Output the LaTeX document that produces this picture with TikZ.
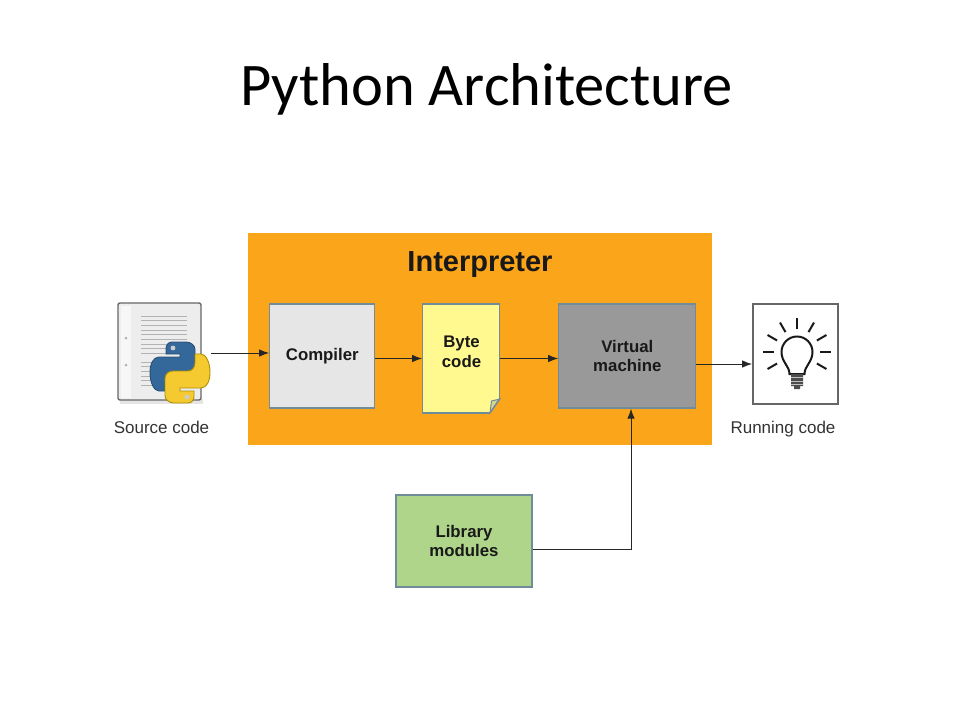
\documentclass[tikz,border=0pt]{standalone}
\usepackage{fontspec}
\setmainfont{Liberation Sans}
\newfontfamily\titlefont{Carlito}
\usetikzlibrary{arrows.meta}

\definecolor{interpcol}{HTML}{FBA51A}
\definecolor{edgecol}{HTML}{6F8C98}
\definecolor{comcol}{HTML}{E6E6E6}
\definecolor{bytecol}{HTML}{FFF98F}
\definecolor{vmcol}{HTML}{999999}
\definecolor{libcol}{HTML}{AED58A}
\definecolor{snakeblue}{HTML}{35689A}
\definecolor{snakeyellow}{HTML}{F5C930}

\tikzset{
	>={Latex[length=10pt, width=7.5pt]},
	block/.style={draw=edgecol, line width=1.3pt, align=center, inner sep=0pt,
		font=\fontsize{16.8}{19.5}\selectfont\bfseries, text=black!90},
	caption/.style={font=\fontsize{17}{20}\selectfont, text=black!80, anchor=base},
	flow/.style={->, line width=1pt, black!85},
	snake/.pic={
		\filldraw[line width=.9pt, pic actions] (-14,-18.5) -- (0,-18.5) -- (0,-15.5) -- (-21,-15.5)
			.. controls (-27,-15.5) and (-30,-8) .. (-30,0)
			.. controls (-30,10) and (-26,18.5) .. (-21,18.5)
			-- (-15,18.5) -- (-15,10) .. controls (-15,5) and (-12,1.5) .. (-8,1.5)
			-- (7,1.5) .. controls (12,1.5) and (15,-2) .. (15,-6)
			-- (15,-23) .. controls (15,-27) and (11,-30.5) .. (6,-30.5)
			-- (-8,-30.5) .. controls (-12,-30.5) and (-14,-27) .. (-14,-24) -- cycle;
		\fill[white!80!black] (-7,-24.5) circle (2.4);
	}
}

\begin{document}
\begin{tikzpicture}[x=1pt, y=-1pt]
	\useasboundingbox[fill=white] (0,0) rectangle (962,718);

	\node[font=\fontsize{60.5}{62}\selectfont\titlefont] (title) at (486.5,89) {Python Architecture};

	\node[fill=interpcol, minimum width=464pt, minimum height=212pt] (interp) at (480,339) {};
	\node[font=\fontsize{29}{32}\selectfont\bfseries, text=black!90] (interplabel) at (480,265) {Interpreter};

	\node[block, fill=comcol, minimum width=105pt, minimum height=104pt] (compiler) at (322.3,356) {Compiler};
	\node[block, fill=bytecol, minimum width=77pt, minimum height=109pt] (bytecode) at (461.3,358.5) {};
	\node[block, draw=none] (bytelabel) at (461.5,352) {Byte\\code};
	\node[block, fill=vmcol, minimum width=137pt, minimum height=104pt] (vm) at (627.3,356) {Virtual\\machine};
	\node[block, fill=libcol, minimum width=136pt, minimum height=92pt] (library) at (464,541) {Library\\modules};
	\node[draw=black!60, fill=white, line width=1.4pt, minimum width=85pt, minimum height=100pt] (running) at (795.3,354) {};

	% folded corner of the byte code sheet
	\fill[interpcol] (489,414.5) -- (501,414.5) -- (501,398) -- cycle;
	\filldraw[draw=edgecol, fill=bytecol!70!edgecol, line width=1pt] (490,413) -- (500,399) -- (491.5,401) -- cycle;
	\draw[edgecol, line width=1.3pt] (500,398) -- (490,413);

	% source file
	\fill[black!10] (120,399) rectangle (203,404);
	\node[draw=black!60, fill=black!7, rounded corners=2pt, line width=1.4pt, minimum width=83pt, minimum height=97pt] (source) at (159.5,351.5) {};
	\fill[black!3] (121,306) rectangle (131,398);
	\foreach \y in {316,320.7,...,356}
		\draw[black!30, line width=1pt] (141,\y) -- (187,\y);
	\foreach \y in {362,366.7,...,386}
		\draw[black!30, line width=1pt] (141,\y) -- (160,\y);
	\foreach \y in {338,365}
		\fill[black!30] (126,\y) circle (1.5);
	\pic[draw=snakeblue!75!black, fill=snakeblue] at (180,372.5) {snake};
	\pic[draw=olive!70!orange, fill=snakeyellow, rotate=180] at (180,372.5) {snake};

	% light bulb
	\foreach \a in {0,30,150,180,-30,-60,-90,-120,-150}
		\draw[black!90, line width=2pt] (797,352) ++(\a:23) -- ++(\a:11);
	\draw[black!90, line width=2pt] (789.5,374) .. controls (789.5,366) and (781.5,362) .. (781.5,352)
		arc[start angle=180, end angle=360, radius=15.5]
		.. controls (812.5,362) and (804.5,366) .. (804.5,374) -- cycle;
	\fill[black!70] (791,374) rectangle (803,386) (794,386) rectangle (800,389);
	\foreach \y in {377.5,381,384.5}
		\draw[black!25, line width=.8pt] (791,\y) -- (803,\y);

	\node[caption] (sourcelabel) at (161.5,433) {Source code};
	\node[caption] (runninglabel) at (783,433) {Running code};

	\coordinate (sourceout) at (211,353);
	\coordinate (vmout) at (696,364);
	\coordinate (libturn) at (631,549);

	\draw[flow] (sourceout) to (compiler.west |- sourceout);
	\draw[flow] (compiler.east |- bytecode) to (bytecode.west);
	\draw[flow] (bytecode.east) to (vm.west |- bytecode);
	\draw[flow] (vmout) to (running.west |- vmout);
	\draw[flow] (library.east |- libturn) -- (libturn) -- (libturn |- vm.south);
\end{tikzpicture}
\end{document}
